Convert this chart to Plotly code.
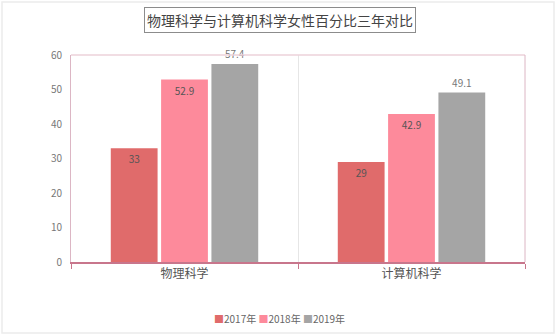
import plotly.graph_objects as go

categories = ["物理科学", "计算机科学"]
years = ["2017年", "2018年", "2019年"]
values_2017 = [33, 29]
values_2018 = [52.9, 42.9]
values_2019 = [57.4, 49.1]
colors = ["#e06b6b", "#fd8a9b", "#a5a5a5"]
series = [values_2017, values_2018, values_2019]

font_family = "Noto Sans CJK SC, Open Sans, sans-serif"

fig = go.Figure()
for i, (name, vals) in enumerate(zip(years, series)):
    inside = i < 2
    fig.add_trace(go.Bar(
        x=categories, y=vals, name=name,
        marker=dict(color=colors[i], line=dict(width=0)),
        text=[str(v) for v in vals],
        textposition="inside" if inside else "outside",
        insidetextanchor="end",
        textfont=dict(size=10, color="#555555" if inside else "#777777", family=font_family),
        cliponaxis=False,
        showlegend=False,
    ))

W, H = 557, 336
l, r, t, b = 71, 32, 55, 74
pw, ph = W - l - r, H - t - b

def px(x):
    return (x - l) / pw

def py(y):
    return (H - b - y) / ph

legend_text = "&nbsp;".join(
    f'<span style="color:{c}">■</span>{y}' for c, y in zip(colors, years)
)

fig.update_layout(
    width=W, height=H,
    margin=dict(l=l, r=r, t=t, b=b, autoexpand=False),
    paper_bgcolor="white", plot_bgcolor="white",
    barmode="group", bargap=0.335, bargroupgap=0.07,
    font=dict(family=font_family, color="#666666"),
    showlegend=False,
    xaxis=dict(showline=True, linecolor="#c8768c", linewidth=1.5,
               tickson="boundaries", ticks="outside", ticklen=5, tickcolor="#c8768c",
               showgrid=True, gridcolor="#e6e6e6",
               tickfont=dict(size=12, color="#555555")),
    yaxis=dict(range=[0, 60], dtick=10, showline=True, linecolor="#dcb6c4",
               showgrid=False, zeroline=False, ticks="outside", ticklen=6,
               tickcolor="rgba(0,0,0,0)",
               tickfont=dict(size=10, color="#777777")),
    shapes=[
        dict(type="line", xref="paper", yref="paper", x0=0, x1=1, y0=1, y1=1,
             line=dict(color="#ecd2da", width=1.5)),
        dict(type="line", xref="paper", yref="paper", x0=1, x1=1, y0=0, y1=1,
             line=dict(color="#dcb6c4", width=1)),
        dict(type="rect", xref="paper", yref="paper",
             x0=px(2), x1=px(554), y0=py(2), y1=py(333),
             line=dict(color="#ececec", width=1.5), layer="below"),
    ],
    annotations=[
        dict(text="物理科学与计算机科学女性百分比三年对比", xref="paper", yref="paper",
             x=px(280), y=py(20), xanchor="center", yanchor="middle", showarrow=False,
             font=dict(size=14, color="#444444", family=font_family),
             bordercolor="#8c8c8c", borderwidth=1, borderpad=2, bgcolor="white"),
        dict(text=legend_text, xref="paper", yref="paper",
             x=px(279), y=py(318), xanchor="center", yanchor="middle", showarrow=False,
             font=dict(size=10, color="#666666", family=font_family)),
    ],
)

fig.write_html("out.html")
